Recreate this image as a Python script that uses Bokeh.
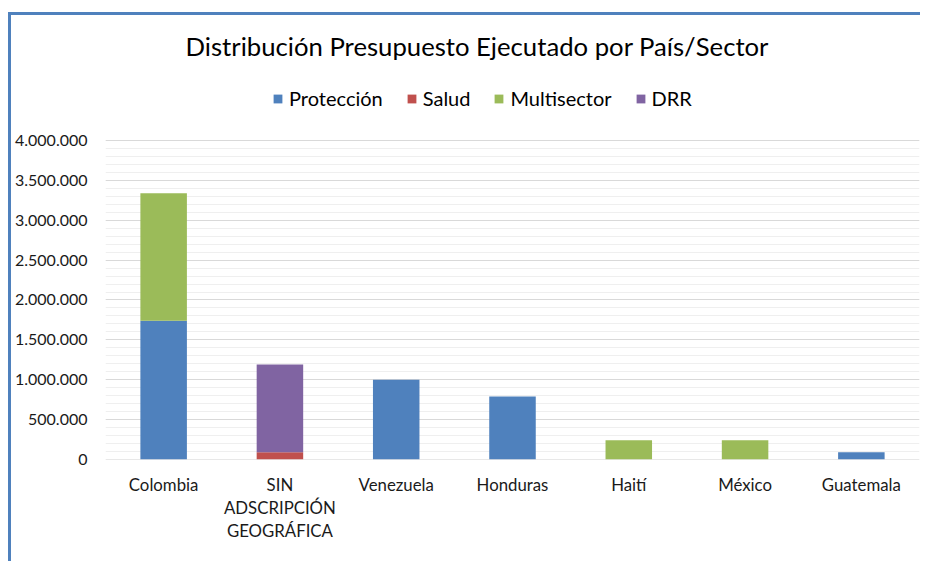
from bokeh.plotting import figure
from bokeh.models import (ColumnDataSource, FactorRange, Range1d, Legend, LegendItem,
                          SingleIntervalTicker, Title)
from bokeh.embed import file_html
from bokeh.resources import INLINE

# ---- data ----
countries = ["Colombia", "SIN\nADSCRIPCIÓN\nGEOGRÁFICA", "Venezuela", "Honduras",
             "Haití", "México", "Guatemala"]
proteccion = [1740000, 0, 1000000, 790000, 0, 0, 92000]
salud = [0, 90000, 0, 0, 0, 0, 0]
multisector = [1600000, 0, 0, 0, 240000, 240000, 0]
drr = [0, 1100000, 0, 0, 0, 0, 0]
sectors = ["Protección", "Salud", "Multisector", "DRR"]
colors = ["#4F81BD", "#C0504D", "#9BBB59", "#8064A2"]
y_ticks = [0, 500000, 1000000, 1500000, 2000000, 2500000, 3000000, 3500000, 4000000]
y_tick_labels = ["0", "500.000", "1.000.000", "1.500.000", "2.000.000",
                 "2.500.000", "3.000.000", "3.500.000", "4.000.000"]
y_axis_max = 4000000

FONT = "Lato"

source = ColumnDataSource(dict(pais=countries, **{
    "Protección": proteccion, "Salud": salud, "Multisector": multisector, "DRR": drr}))

# frame extends above the axis maximum to host the legend
p = figure(x_range=FactorRange(*countries), y_range=Range1d(-1, 5003000),
           width=912, height=549, output_backend="svg", toolbar_location=None,
           min_border_left=94, min_border_right=4, min_border_top=45, min_border_bottom=105)
p.title = None
p.styles = {"border-left": "3px solid #4F81BD", "border-top": "3px solid #4F81BD",
            "margin-top": "12px", "margin-left": "8px"}

renderers = p.vbar_stack(sectors, x="pais", width=0.4, color=colors, source=source,
                         line_color=None)

legend = Legend(items=[LegendItem(label=s, renderers=[r]) for s, r in zip(sectors, renderers)],
                orientation="horizontal", location=(167, 349),
                label_text_font=FONT, label_text_font_size="20px", label_text_color="#000000",
                glyph_width=11, glyph_height=11, label_standoff=6, spacing=23,
                padding=0, margin=0, border_line_color=None, background_fill_alpha=0)
p.add_layout(legend, "center")

title = Title(text="Distribución Presupuesto Ejecutado por País/Sector", align="left",
              text_font=FONT, text_font_size="25.7px", text_font_style="normal",
              text_color="#000000", standoff=0, offset=80)
p.add_layout(title, "above")

p.outline_line_color = None
p.xgrid.grid_line_color = None
ticker = SingleIntervalTicker(interval=500000, num_minor_ticks=5)
p.yaxis.ticker = ticker
p.ygrid.ticker = ticker
p.ygrid.bounds = (0, y_axis_max)
p.yaxis.bounds = (0, y_axis_max)
p.ygrid.grid_line_color = "#D9D9D9"
p.ygrid.grid_line_width = 1
p.ygrid.minor_grid_line_color = "#EFEFEF"
p.ygrid.minor_grid_line_width = 1

p.yaxis.major_label_overrides = {t: l for t, l in zip(y_ticks, y_tick_labels)}
for ax in (p.xaxis, p.yaxis):
    ax.axis_line_color = None
    ax.major_tick_line_color = None
    ax.minor_tick_line_color = None
    ax.major_tick_out = 0
    ax.minor_tick_out = 0
    ax.major_label_text_font = FONT
    ax.major_label_text_color = "#1A1A1A"
p.yaxis.major_label_text_font_size = "16px"
p.xaxis.major_label_text_font_size = "16.8px"
p.yaxis.major_label_standoff = 18
p.xaxis.major_label_standoff = 14
p.xaxis.major_label_text_line_height = 1.1

open("out.html", "w").write(file_html(p, INLINE))
